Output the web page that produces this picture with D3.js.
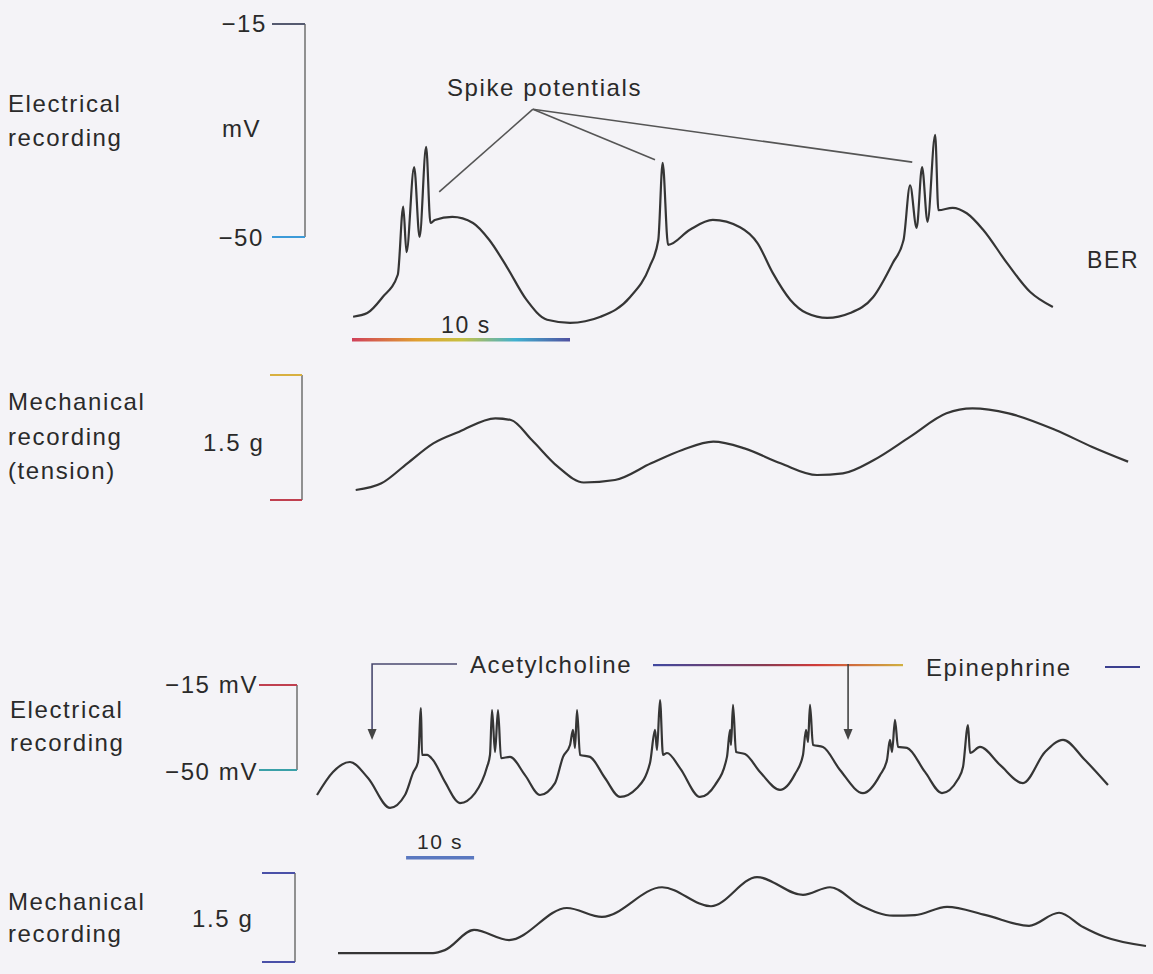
<!DOCTYPE html>
<html>
<head>
<meta charset="utf-8">
<script src="https://cdn.jsdelivr.net/npm/d3@7"></script>
<style>
  body { margin: 0; background: #f4f3f7; }
  svg text { font-family: "Liberation Sans", Arial, Helvetica, sans-serif; fill: #2a2a2a; }
</style>
</head>
<body>
<script>
var w = 1153;
var h = 974;

// top panel: electrical recording (s, mV)
var topElecTime = [0.05,0.7,1.4,2.1,2.35,2.5,2.85,3.1,3.4,3.6,3.8,4.6,5.55,6.3,7.1,8.0,8.95,10.0,11.4,12.75,13.65,14.05,14.25,14.5,15.5,16.55,17.8,18.6,19.3,20.1,20.85,21.8,22.85,23.9,24.8,25.3,25.6,25.9,26.15,26.4,26.75,26.9,27.55,28.2,28.95,30.05,31.1,32.15];
var topElecMv = [-63.1,-62.5,-59.9,-56.2,-45.0,-52.5,-38.5,-50.0,-35.2,-47.7,-47.2,-46.7,-47.7,-50.5,-54.9,-60.3,-63.6,-64.1,-63.1,-59.9,-54.9,-50.5,-37.8,-51.3,-48.8,-47.2,-48.4,-51.0,-55.9,-60.3,-62.5,-63.3,-62.5,-59.9,-54.3,-50.5,-41.5,-48.5,-38.5,-47.5,-33.2,-45.6,-45.2,-46.1,-48.8,-54.3,-59.0,-61.5];

// top panel: mechanical recording (s, g)
var topMechTime = [0.17,1.35,2.54,3.73,4.92,6.58,7.29,8.25,9.44,10.63,12.06,13.72,15.15,16.57,18.0,19.66,21.33,22.52,23.94,25.61,27.27,28.46,30.12,32.27,33.93,35.6];
var topMechG = [0.12,0.20,0.44,0.68,0.82,0.98,0.96,0.72,0.40,0.21,0.24,0.44,0.60,0.70,0.62,0.44,0.30,0.32,0.48,0.76,1.04,1.10,1.04,0.84,0.64,0.46];

// bottom panel: electrical recording (s, mV)
var botElecTime = [0,2.35,4.85,7.5,10.74,12.94,14.12,14.85,15.29,15.44,16.18,17.06,18.82,21.03,23.24,25.0,25.44,25.74,26.18,26.62,27.06,28.38,30.59,32.79,35.0,36.18,37.21,37.65,37.94,38.24,38.68,40.15,42.35,44.56,47.06,48.97,49.71,50.0,50.44,50.88,51.47,53.38,56.32,58.53,60.29,60.74,60.88,61.18,61.62,62.94,65.15,68.09,70.29,71.47,71.91,72.21,72.5,72.94,74.41,76.91,80.29,82.79,83.82,84.26,84.56,85.0,85.44,86.76,89.41,91.91,94.26,95.0,95.74,96.03,97.5,100.44,103.82,107.06,109.71,112.94,116.32];
var botElecMv = [-60.3,-50.8,-46.7,-53.3,-65.6,-60.3,-51.2,-46.7,-24.5,-43.8,-43.8,-45.9,-54.9,-63.6,-59.5,-48.8,-43.8,-25.3,-42.6,-25.3,-45.1,-44.6,-52.1,-60.3,-55.4,-44.6,-39.7,-33.5,-40.9,-25.3,-43.8,-44.6,-53.3,-61.1,-57.4,-47.1,-33.5,-41.8,-21.2,-43.8,-43.0,-49.2,-61.1,-56.2,-44.6,-33.5,-39.7,-23.2,-42.6,-43.4,-50.8,-58.2,-51.7,-43.8,-33.5,-38.5,-23.2,-39.7,-40.5,-50.0,-59.5,-52.1,-45.9,-37.6,-42.6,-29.4,-40.5,-40.9,-50.8,-59.5,-53.8,-48.8,-31.5,-43.0,-40.5,-47.9,-55.4,-42.6,-37.6,-45.9,-56.2];

// bottom panel: mechanical recording (s, g)
var botMechTime = [3.09,17.06,18.8,23.09,28.24,36.76,41.91,50.74,57.94,64.71,71.47,75.44,79.85,84.71,87.94,92.65,98.38,104.71,109.12,112.65,115.88,121.91];
var botMechG = [0.15,0.15,0.2,0.54,0.37,0.91,0.76,1.26,0.94,1.43,1.13,1.26,0.96,0.78,0.79,0.93,0.79,0.61,0.83,0.59,0.42,0.27];

// calibration and annotation values
var mvTicks = [-15, -50];
var gCal = [0, 1.5];
var topBarTime = [0, 10];
var botBarTime = [13.1, 23.1];
var spikeAnchor = [8.3, -29.0];
var spikeTargets = [[4.0, -42.6], [13.9, -37.3], [25.7, -37.7]];
var drugTimes = [8.1, 78.1];
var drugNames = ["Acetylcholine", "Epinephrine"];

var svg = d3.select("body")
  .append("svg")
  .attr("width", w)
  .attr("height", h);

var defs = svg.append("defs");
var g1 = defs.append("linearGradient").attr("id", "bar10");
g1.append("stop").attr("offset", "0%").attr("stop-color", "#d0405a");
g1.append("stop").attr("offset", "30%").attr("stop-color", "#e0a030");
g1.append("stop").attr("offset", "50%").attr("stop-color", "#c8c040");
g1.append("stop").attr("offset", "75%").attr("stop-color", "#40b0d0");
g1.append("stop").attr("offset", "100%").attr("stop-color", "#5050a0");
var g2 = defs.append("linearGradient").attr("id", "drugline");
g2.append("stop").attr("offset", "0%").attr("stop-color", "#4048a0");
g2.append("stop").attr("offset", "45%").attr("stop-color", "#8a3a50");
g2.append("stop").attr("offset", "65%").attr("stop-color", "#d03a3a");
g2.append("stop").attr("offset", "100%").attr("stop-color", "#d0b040");

var xTop = d3.scaleLinear().domain([0, 10]).range([352, 570]);
var yTopE = d3.scaleLinear().domain([-50, -15]).range([237, 24]);
var yTopM = d3.scaleLinear().domain([0, 1.5]).range([500, 375]);
var xBot = d3.scaleLinear().domain([0, 10]).range([317, 385]);
var yBotE = d3.scaleLinear().domain([-50, -15]).range([770, 685]);
var yBotM = d3.scaleLinear().domain([0, 1.5]).range([962, 873]);

function trace(times, vals, x, y) {
  var pts = times.map(function(t, i){ return [t, vals[i]]; });
  var line = d3.line()
    .x(function(d){ return x(d[0]); })
    .y(function(d){ return y(d[1]); })
    .curve(d3.curveMonotoneX);
  svg.append("path")
    .attr("d", line(pts))
    .attr("fill", "none")
    .attr("stroke", "#353535")
    .attr("stroke-width", 2.2)
    .attr("stroke-linejoin", "round");
}

trace(topElecTime, topElecMv, xTop, yTopE);
trace(topMechTime, topMechG, xTop, yTopM);
trace(botElecTime, botElecMv, xBot, yBotE);
trace(botMechTime, botMechG, xBot, yBotM);

function label(x, y, txt, size, anchor) {
  svg.append("text")
    .attr("x", x).attr("y", y)
    .attr("font-size", size || 24)
    .attr("letter-spacing", 1.6)
    .attr("text-anchor", anchor || "start")
    .text(txt);
}

function bracket(xv, y, vals, tick, topCol, botCol) {
  var y0 = y(vals[0]), y1 = y(vals[1]);
  svg.append("line").attr("x1", xv).attr("x2", xv).attr("y1", y0).attr("y2", y1)
    .attr("stroke", "#777").attr("stroke-width", 1.6);
  svg.append("line").attr("x1", xv - tick).attr("x2", xv).attr("y1", y0).attr("y2", y0)
    .attr("stroke", topCol).attr("stroke-width", 2);
  svg.append("line").attr("x1", xv - tick).attr("x2", xv).attr("y1", y1).attr("y2", y1)
    .attr("stroke", botCol).attr("stroke-width", 2);
}

// top left labels
label(8, 112, "Electrical");
label(8, 146, "recording");
label(222, 137, "mV");
label(267, 32, "\u221215", 24, "end");
label(264, 246, "\u221250", 24, "end");
bracket(305, yTopE, mvTicks, 33, "#555a70", "#3c9ad8");

label(8, 410, "Mechanical");
label(8, 445, "recording");
label(8, 479, "(tension)");
label(203, 451, "1.5 g");
bracket(302, yTopM, gCal.slice().reverse(), 32, "#d8b040", "#c04050");

// spike potentials
label(447, 96, "Spike potentials");
spikeTargets.forEach(function(p){
  svg.append("line")
    .attr("x1", xTop(spikeAnchor[0])).attr("y1", yTopE(spikeAnchor[1]))
    .attr("x2", xTop(p[0])).attr("y2", yTopE(p[1]))
    .attr("stroke", "#555").attr("stroke-width", 1.6);
});

// 10 s bar (top)
svg.append("rect")
  .attr("x", xTop(topBarTime[0])).attr("y", 338)
  .attr("width", xTop(topBarTime[1]) - xTop(topBarTime[0])).attr("height", 3.5)
  .attr("fill", "url(#bar10)");
label((xTop(topBarTime[0]) + xTop(topBarTime[1])) / 2 + 5, 333, "10 s", 23, "middle");
label(1087, 268, "BER", 23);

// bottom left labels
label(10, 718, "Electrical");
label(10, 751, "recording");
label(258, 693, "\u221215 mV", 24, "end");
label(258, 780, "\u221250 mV", 24, "end");
bracket(297, yBotE, mvTicks, 38, "#c04050", "#3aa0a8");

label(8, 910, "Mechanical");
label(8, 942, "recording");
label(192, 927, "1.5 g");
bracket(295, yBotM, gCal.slice().reverse(), 33, "#4a50a8", "#4a50a8");

// drug application markers
var ax = xBot(drugTimes[0]), ex = xBot(drugTimes[1]);
var lineY = 664, tipY = 740;
svg.append("path")
  .attr("d", "M" + ax + "," + (tipY - 10) + "V" + lineY + "H457")
  .attr("fill", "none").attr("stroke", "#4a4a70").attr("stroke-width", 1.6);
label(470, 673, drugNames[0]);
svg.append("rect").attr("x", 653).attr("y", lineY).attr("width", 250).attr("height", 2.2)
  .attr("fill", "url(#drugline)");
svg.append("line").attr("x1", ex).attr("x2", ex).attr("y1", lineY).attr("y2", tipY - 10)
  .attr("stroke", "#444").attr("stroke-width", 1.6);
label(926, 676, drugNames[1]);
svg.append("line").attr("x1", 1105).attr("x2", 1140).attr("y1", 667).attr("y2", 667)
  .attr("stroke", "#3b3f8f").attr("stroke-width", 2.2);
[ax, ex].forEach(function(x){
  svg.append("path")
    .attr("d", "M" + (x - 4.5) + "," + (tipY - 11) + "L" + (x + 4.5) + "," + (tipY - 11) + "L" + x + "," + tipY + "Z")
    .attr("fill", "#444");
});

// 10 s bar (bottom)
svg.append("rect")
  .attr("x", xBot(botBarTime[0])).attr("y", 856)
  .attr("width", xBot(botBarTime[1]) - xBot(botBarTime[0])).attr("height", 3.5)
  .attr("fill", "#5a78c0");
label((xBot(botBarTime[0]) + xBot(botBarTime[1])) / 2, 849, "10 s", 21, "middle");
</script>
</body>
</html>
